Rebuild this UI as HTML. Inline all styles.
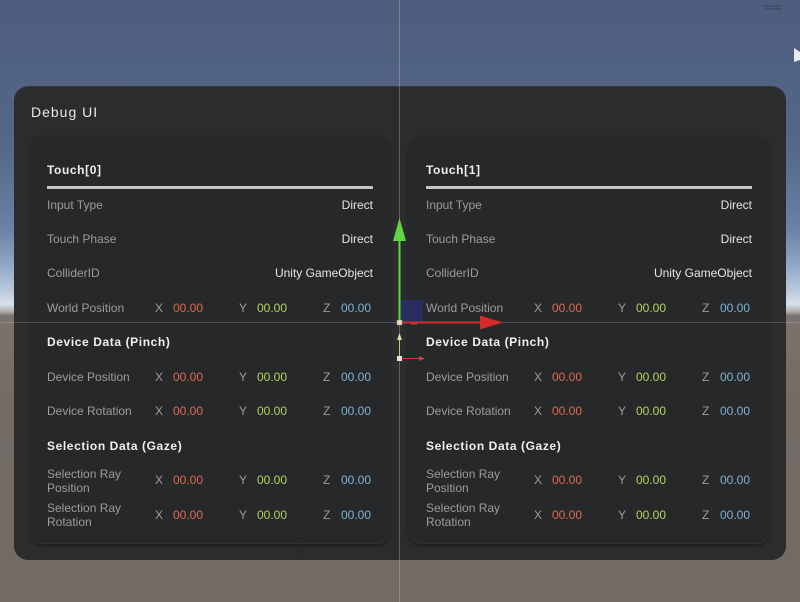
<!DOCTYPE html>
<html><head><meta charset="utf-8">
<style>
html,body{margin:0;padding:0;}
body{width:800px;height:602px;position:relative;overflow:hidden;font-family:"Liberation Sans",sans-serif;
background:linear-gradient(to bottom,#4d5d7d 0px,#55688a 150px,#6b82a6 230px,#8fa8c8 265px,#bccbdc 292px,#d8e1ea 304px,#b4b3b2 311px,#7b726c 316px,#756c66 400px,#736a64 602px);}
.abs{position:absolute;}
.outer{left:14px;top:86px;width:772px;height:474px;border-radius:14px;background:#2b2c2e;box-shadow:0 1px 0 rgba(255,255,255,0.06) inset;}
.card{top:136px;width:360px;height:408px;border-radius:12px;background:#27282a;box-shadow:0 2px 3px rgba(0,0,0,0.35),0 -1px 0 rgba(255,255,255,0.05) inset;}
.t{position:absolute;font-size:12px;line-height:14px;white-space:nowrap;}
.lbl{color:#9c9c9c;}
.val{color:#e6e6e6;}
.hd{color:#f0f0f0;font-weight:bold;letter-spacing:0.6px;}
.x{color:#e0694f;}
.y{color:#b9d35c;}
.z{color:#7eb3d6;}
.ax{color:#9c9c9c;}
</style></head><body>
<div class="abs outer"></div>
<div class="t" style="left:31px;top:104px;font-size:14px;line-height:16px;color:#e8e8e8;letter-spacing:1px;">Debug UI</div>

<div class="abs card" style="left:30px;"></div>
<div class="abs card" style="left:409px;"></div>

<div class="t hd" style="left:47px;top:163px;">Touch[0]</div>
<div class="abs" style="left:47px;top:186px;width:326px;height:3px;background:#c4c4c4;"></div>
<div class="t lbl" style="left:47px;top:198px;">Input Type</div>
<div class="t val" style="right:427px;top:198px;">Direct</div>
<div class="t lbl" style="left:47px;top:232px;">Touch Phase</div>
<div class="t val" style="right:427px;top:232px;">Direct</div>
<div class="t lbl" style="left:47px;top:266px;">ColliderID</div>
<div class="t val" style="right:427px;top:266px;">Unity GameObject</div>
<div class="t lbl" style="left:47px;top:301px;">World Position</div>
<div class="t ax" style="left:155px;top:301px;">X</div><div class="t x" style="left:173px;top:301px;">00.00</div>
<div class="t ax" style="left:239px;top:301px;">Y</div><div class="t y" style="left:257px;top:301px;">00.00</div>
<div class="t ax" style="left:323px;top:301px;">Z</div><div class="t z" style="left:341px;top:301px;">00.00</div>
<div class="t hd" style="left:47px;top:335px;">Device Data (Pinch)</div>
<div class="t lbl" style="left:47px;top:370px;">Device Position</div>
<div class="t ax" style="left:155px;top:370px;">X</div><div class="t x" style="left:173px;top:370px;">00.00</div>
<div class="t ax" style="left:239px;top:370px;">Y</div><div class="t y" style="left:257px;top:370px;">00.00</div>
<div class="t ax" style="left:323px;top:370px;">Z</div><div class="t z" style="left:341px;top:370px;">00.00</div>
<div class="t lbl" style="left:47px;top:404px;">Device Rotation</div>
<div class="t ax" style="left:155px;top:404px;">X</div><div class="t x" style="left:173px;top:404px;">00.00</div>
<div class="t ax" style="left:239px;top:404px;">Y</div><div class="t y" style="left:257px;top:404px;">00.00</div>
<div class="t ax" style="left:323px;top:404px;">Z</div><div class="t z" style="left:341px;top:404px;">00.00</div>
<div class="t hd" style="left:47px;top:439px;">Selection Data (Gaze)</div>
<div class="t lbl" style="left:47px;top:467px;">Selection Ray<br>Position</div>
<div class="t ax" style="left:155px;top:473px;">X</div><div class="t x" style="left:173px;top:473px;">00.00</div>
<div class="t ax" style="left:239px;top:473px;">Y</div><div class="t y" style="left:257px;top:473px;">00.00</div>
<div class="t ax" style="left:323px;top:473px;">Z</div><div class="t z" style="left:341px;top:473px;">00.00</div>
<div class="t lbl" style="left:47px;top:501px;">Selection Ray<br>Rotation</div>
<div class="t ax" style="left:155px;top:508px;">X</div><div class="t x" style="left:173px;top:508px;">00.00</div>
<div class="t ax" style="left:239px;top:508px;">Y</div><div class="t y" style="left:257px;top:508px;">00.00</div>
<div class="t ax" style="left:323px;top:508px;">Z</div><div class="t z" style="left:341px;top:508px;">00.00</div>

<div class="t hd" style="left:426px;top:163px;">Touch[1]</div>
<div class="abs" style="left:426px;top:186px;width:326px;height:3px;background:#c4c4c4;"></div>
<div class="t lbl" style="left:426px;top:198px;">Input Type</div>
<div class="t val" style="right:48px;top:198px;">Direct</div>
<div class="t lbl" style="left:426px;top:232px;">Touch Phase</div>
<div class="t val" style="right:48px;top:232px;">Direct</div>
<div class="t lbl" style="left:426px;top:266px;">ColliderID</div>
<div class="t val" style="right:48px;top:266px;">Unity GameObject</div>
<div class="t lbl" style="left:426px;top:301px;">World Position</div>
<div class="t ax" style="left:534px;top:301px;">X</div><div class="t x" style="left:552px;top:301px;">00.00</div>
<div class="t ax" style="left:618px;top:301px;">Y</div><div class="t y" style="left:636px;top:301px;">00.00</div>
<div class="t ax" style="left:702px;top:301px;">Z</div><div class="t z" style="left:720px;top:301px;">00.00</div>
<div class="t hd" style="left:426px;top:335px;">Device Data (Pinch)</div>
<div class="t lbl" style="left:426px;top:370px;">Device Position</div>
<div class="t ax" style="left:534px;top:370px;">X</div><div class="t x" style="left:552px;top:370px;">00.00</div>
<div class="t ax" style="left:618px;top:370px;">Y</div><div class="t y" style="left:636px;top:370px;">00.00</div>
<div class="t ax" style="left:702px;top:370px;">Z</div><div class="t z" style="left:720px;top:370px;">00.00</div>
<div class="t lbl" style="left:426px;top:404px;">Device Rotation</div>
<div class="t ax" style="left:534px;top:404px;">X</div><div class="t x" style="left:552px;top:404px;">00.00</div>
<div class="t ax" style="left:618px;top:404px;">Y</div><div class="t y" style="left:636px;top:404px;">00.00</div>
<div class="t ax" style="left:702px;top:404px;">Z</div><div class="t z" style="left:720px;top:404px;">00.00</div>
<div class="t hd" style="left:426px;top:439px;">Selection Data (Gaze)</div>
<div class="t lbl" style="left:426px;top:467px;">Selection Ray<br>Position</div>
<div class="t ax" style="left:534px;top:473px;">X</div><div class="t x" style="left:552px;top:473px;">00.00</div>
<div class="t ax" style="left:618px;top:473px;">Y</div><div class="t y" style="left:636px;top:473px;">00.00</div>
<div class="t ax" style="left:702px;top:473px;">Z</div><div class="t z" style="left:720px;top:473px;">00.00</div>
<div class="t lbl" style="left:426px;top:501px;">Selection Ray<br>Rotation</div>
<div class="t ax" style="left:534px;top:508px;">X</div><div class="t x" style="left:552px;top:508px;">00.00</div>
<div class="t ax" style="left:618px;top:508px;">Y</div><div class="t y" style="left:636px;top:508px;">00.00</div>
<div class="t ax" style="left:702px;top:508px;">Z</div><div class="t z" style="left:720px;top:508px;">00.00</div>

<svg class="abs" style="left:0;top:0;" width="800" height="602" viewBox="0 0 800 602">
  <line x1="399.5" y1="0" x2="399.5" y2="602" stroke="rgba(200,200,200,0.35)" stroke-width="1"/>
  <line x1="0" y1="322.5" x2="800" y2="322.5" stroke="rgba(200,200,200,0.25)" stroke-width="1"/>
  <rect x="401" y="300" width="22" height="22" fill="rgba(40,50,130,0.6)"/>
  <line x1="399.5" y1="322" x2="399.5" y2="238" stroke="#5fd640" stroke-width="2"/>
  <polygon points="399.5,218 393,241 406,241" fill="#5fd640"/>
  <line x1="400" y1="322.5" x2="484" y2="322.5" stroke="#d42a2a" stroke-width="2"/>
  <polygon points="503,322.5 480,315.5 480,329.5" fill="#d42a2a"/>
  <rect x="397" y="320" width="5" height="5" fill="#e8e0c8" stroke="#a08060" stroke-width="0.5"/>
  <line x1="399.5" y1="357" x2="399.5" y2="338" stroke="#b8d080" stroke-width="1"/>
  <polygon points="399.5,333 397,340 402,340" fill="#d8e0a0"/>
  <line x1="400" y1="358.5" x2="420" y2="358.5" stroke="#c04040" stroke-width="1"/>
  <polygon points="425,358.5 419,356 419,361" fill="#c04040"/>
  <rect x="397" y="356" width="5" height="5" fill="#e8e8e0"/>
  <line x1="411" y1="324" x2="417" y2="324" stroke="#c04040" stroke-width="1"/>
  <line x1="764" y1="6" x2="782" y2="6" stroke="#3a4458" stroke-width="1"/>
  <line x1="764" y1="9" x2="782" y2="9" stroke="#3a4458" stroke-width="1"/>
  <polygon points="794,48 800,52 800,60 794,62" fill="#e8ecf0"/>
  <line x1="304" y1="530" x2="298" y2="560" stroke="#1e1e1e" stroke-width="1.2" stroke-dasharray="3,4"/>
</svg>
</body></html>
